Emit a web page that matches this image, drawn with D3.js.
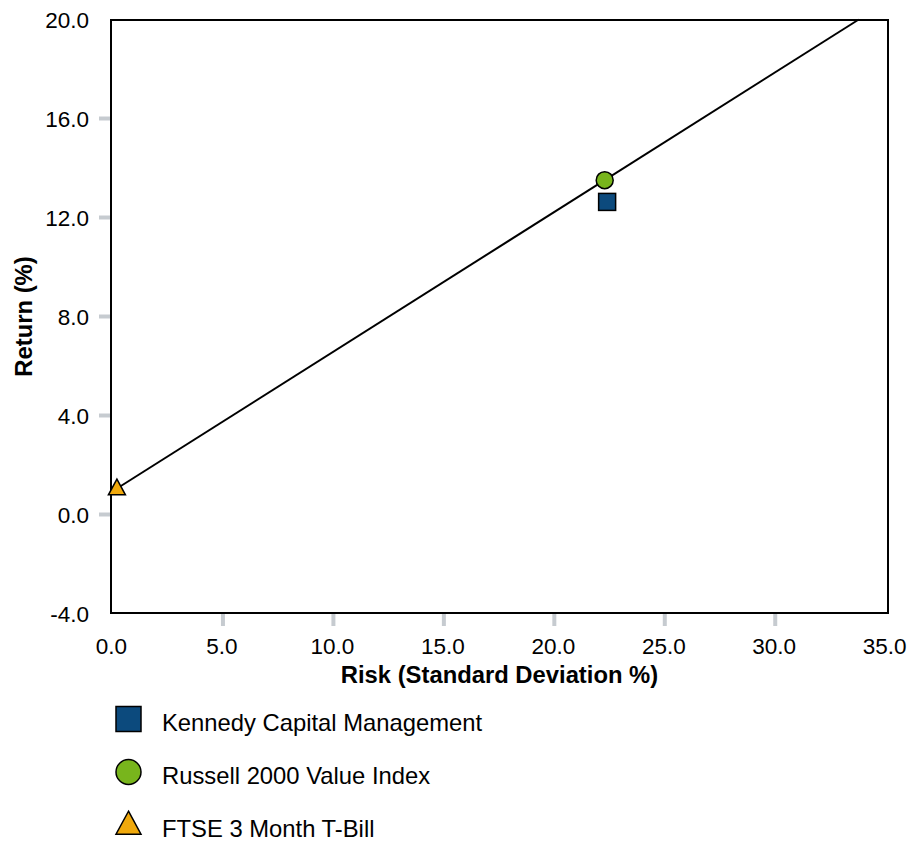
<!DOCTYPE html>
<html>
<head>
<meta charset="utf-8">
<script src="https://cdn.jsdelivr.net/npm/d3@7"></script>
<style>
  html, body { margin: 0; padding: 0; background: #ffffff; }
  svg { display: block; }
  text { font-family: "Liberation Sans", Arial, sans-serif; fill: #000; }
</style>
</head>
<body>
<svg id="chart" width="912" height="842"></svg>
<script>
// ---- data ----
const seriesNames = ["Kennedy Capital Management", "Russell 2000 Value Index", "FTSE 3 Month T-Bill"];
const riskValues = [22.39, 22.28, 0.2];
const returnValues = [12.63, 13.51, 1.05];
const seriesColors = ["#0c4a7d", "#78b51c", "#f0a90c"];
const seriesShapes = ["square", "circle", "triangle"];
const xTicks = [0, 5, 10, 15, 20, 25, 30, 35];
const yTicks = [-4, 0, 4, 8, 12, 16, 20];
const xDomain = [0, 35];
const yDomain = [-4, 20];

const svg = d3.select("#chart");
const x = d3.scaleLinear().domain(xDomain).range([112.5, 885.7]);
const y = d3.scaleLinear().domain(yDomain).range([613.5, 19.5]);

const frame = { left: 111, right: 888, top: 20, bottom: 613 };
const fmt = d => d3.format(".1f")(d).replace("\u2212", "-");

// tick marks (gray, outside the frame, only interior ticks)
const tickColor = "#c6cbd0";
svg.append("g").selectAll("line")
  .data(xTicks.filter(d => d > xDomain[0] && d < xDomain[1]))
  .join("line")
  .attr("x1", d => x(d)).attr("x2", d => x(d))
  .attr("y1", frame.bottom + 1).attr("y2", frame.bottom + 13)
  .attr("stroke", tickColor).attr("stroke-width", 4);
svg.append("g").selectAll("line")
  .data(yTicks.filter(d => d > yDomain[0] && d < yDomain[1]))
  .join("line")
  .attr("y1", d => y(d)).attr("y2", d => y(d))
  .attr("x1", frame.left - 12).attr("x2", frame.left - 1)
  .attr("stroke", tickColor).attr("stroke-width", 4);

// tick labels
const fs = 22.5;
const fsBig = 23.8;
svg.append("g").selectAll("text")
  .data(xTicks).join("text")
  .attr("x", d => x(d) - 1).attr("y", 654)
  .attr("text-anchor", "middle")
  .attr("font-size", fs)
  .text(fmt);
svg.append("g").selectAll("text")
  .data(yTicks).join("text")
  .attr("x", 89).attr("y", d => y(d) + 8)
  .attr("text-anchor", "end")
  .attr("font-size", fs)
  .text(fmt);

// axis titles
svg.append("text")
  .attr("x", (frame.left + frame.right) / 2).attr("y", 683)
  .attr("text-anchor", "middle").attr("font-size", fsBig).attr("font-weight", "bold")
  .text("Risk (Standard Deviation %)");
svg.append("text")
  .attr("transform", `translate(32, ${(frame.top + frame.bottom) / 2}) rotate(-90)`)
  .attr("text-anchor", "middle").attr("font-size", fsBig).attr("font-weight", "bold")
  .text("Return (%)");

// frame
svg.append("rect")
  .attr("x", frame.left).attr("y", frame.top)
  .attr("width", frame.right - frame.left).attr("height", frame.bottom - frame.top)
  .attr("fill", "none").attr("stroke", "#000").attr("stroke-width", 2);

// capital market line: from T-bill through benchmark to top of chart
const rf = { r: riskValues[2], v: returnValues[2] };
const bm = { r: riskValues[1], v: returnValues[1] };
const slope = (bm.v - rf.v) / (bm.r - rf.r);
const endR = rf.r + (yDomain[1] - rf.v) / slope;
svg.append("line")
  .attr("x1", x(rf.r)).attr("y1", y(rf.v))
  .attr("x2", x(endR)).attr("y2", y(yDomain[1]))
  .attr("stroke", "#000").attr("stroke-width", 2);

function drawMarker(g, shape, cx, cy, size, color) {
  if (shape === "square") {
    g.append("rect").attr("x", cx - size / 2).attr("y", cy - size / 2)
      .attr("width", size).attr("height", size)
      .attr("fill", color).attr("stroke", "#000").attr("stroke-width", 1.5);
  } else if (shape === "circle") {
    g.append("circle").attr("cx", cx).attr("cy", cy).attr("r", size / 2)
      .attr("fill", color).attr("stroke", "#000").attr("stroke-width", 1.5);
  } else {
    const w = size, h = size * 0.92;
    const pts = [[cx, cy - h * 0.6], [cx + w / 2, cy + h * 0.4], [cx - w / 2, cy + h * 0.4]];
    g.append("polygon").attr("points", pts.map(p => p.join(",")).join(" "))
      .attr("fill", color).attr("stroke", "#000").attr("stroke-width", 1.5);
  }
}

// points (draw order: triangle, square, circle)
const pg = svg.append("g");
[2, 0, 1].forEach(i => {
  drawMarker(pg, seriesShapes[i], x(riskValues[i]), y(returnValues[i]), 17, seriesColors[i]);
});

// legend
const lg = svg.append("g");
seriesNames.forEach((name, i) => {
  const cy = 719 + i * 53;
  drawMarker(lg, seriesShapes[i], 128.5, cy, 25, seriesColors[i]);
  lg.append("text").attr("x", 162).attr("y", cy + 12)
    .attr("font-size", fsBig).text(name);
});
</script>
</body>
</html>
